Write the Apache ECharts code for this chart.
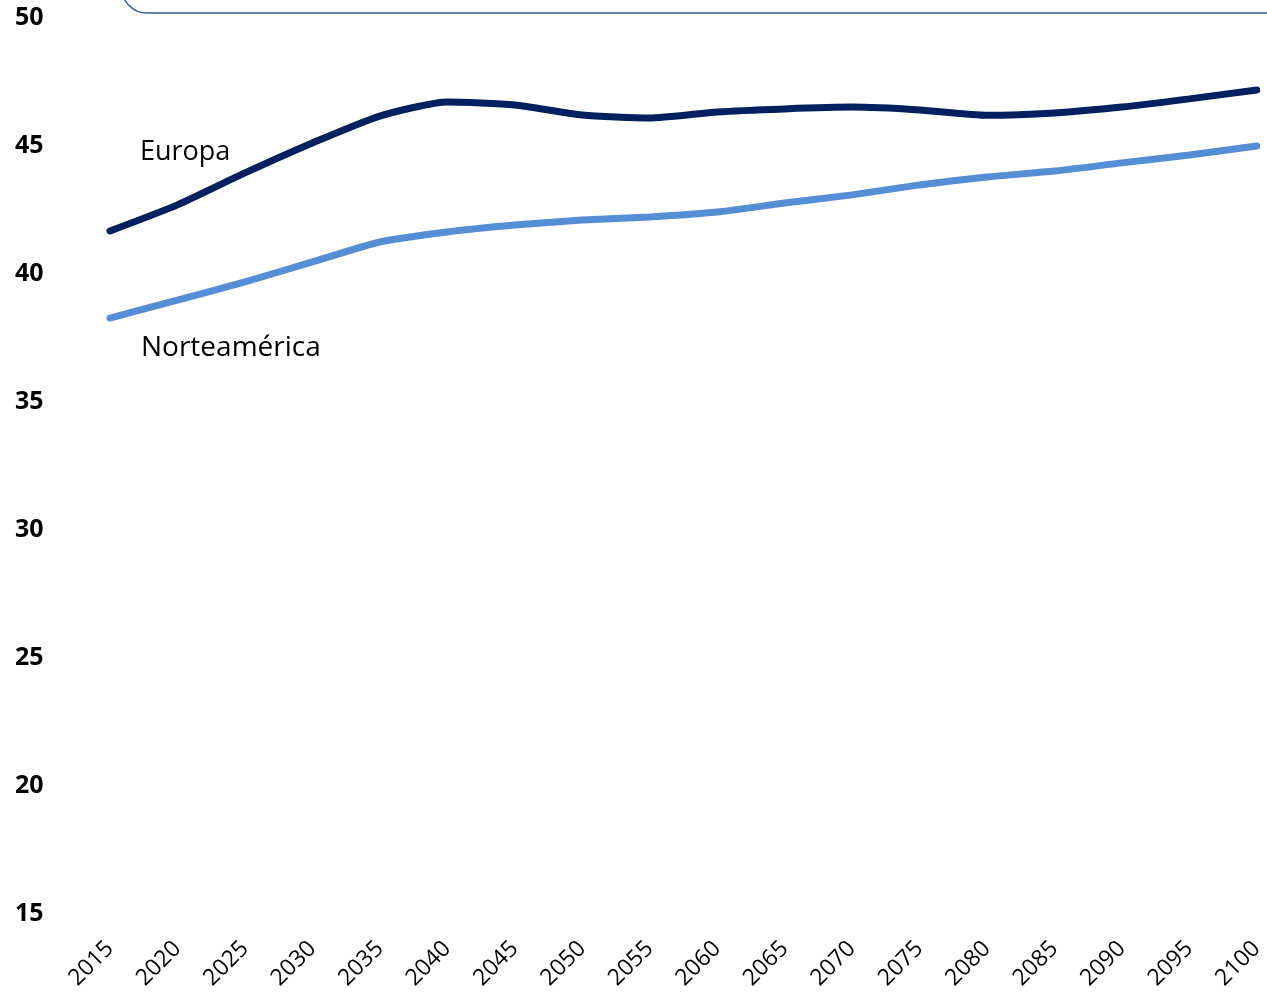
<!DOCTYPE html>
<html>
<head>
<meta charset="utf-8">
<script src="https://cdn.jsdelivr.net/npm/echarts@6/dist/echarts.min.js"></script>
<style>
html,body{margin:0;padding:0;background:#fff;}
#c{width:1267px;height:994px;}
</style>
</head>
<body>
<div id="c"></div>
<script>
const years = ['2015','2020','2025','2030','2035','2040','2045','2050','2055','2060','2065','2070','2075','2080','2085','2090','2095','2100'];
const europa = [41.68,42.7,43.95,45.12,46.17,46.72,46.6,46.21,46.09,46.33,46.45,46.52,46.41,46.2,46.29,46.52,46.84,47.19];
const norteamerica = [38.28,38.98,39.69,40.47,41.25,41.64,41.91,42.11,42.23,42.42,42.77,43.09,43.48,43.79,44.02,44.34,44.65,45.0];
const yTicks = {min:15, max:50, interval:5};

const chart = echarts.init(document.getElementById('c'), null, {renderer:'canvas'});
const font = '"Open Sans", "Noto Sans", sans-serif';
chart.setOption({
  animation:false,
  backgroundColor:'#fff',
  grid:{left:110, right:5, top:18, bottom:80, containLabel:false},
  xAxis:{
    type:'category', data:years, boundaryGap:false,
    axisLine:{show:false}, axisTick:{show:false}, splitLine:{show:false},
    axisLabel:{rotate:45, margin:31, fontFamily:font, fontSize:23, color:'#000', interval:0}
  },
  yAxis:{
    type:'value', min:yTicks.min, max:yTicks.max, interval:yTicks.interval,
    axisLine:{show:false}, axisTick:{show:false}, splitLine:{show:false},
    axisLabel:{fontFamily:font, fontSize:25, fontWeight:'bold', color:'#000', align:'left', margin:95,
               padding:[8,0,0,0]}
  },
  series:[
    {name:'Europa', type:'line', data:europa, smooth:0.2, symbol:'none',
     lineStyle:{color:'#002060', width:7, cap:'round'}},
    {name:'Norteamérica', type:'line', data:norteamerica, smooth:0.2, symbol:'none',
     lineStyle:{color:'#558ed5', width:7, cap:'round'}}
  ],
  graphic:[
    {type:'rect', shape:{x:122, y:-60, width:1200, height:73, r:25},
     style:{fill:'none', stroke:'#385d8a', lineWidth:1.5}},
    {type:'text', left:140, top:139, style:{text:'Europa', fontFamily:font, fontSize:27, fill:'#000'}},
    {type:'text', left:141, top:334, style:{text:'Norteamérica', fontFamily:font, fontSize:28, fill:'#000'}}
  ]
});
</script>
</body>
</html>
